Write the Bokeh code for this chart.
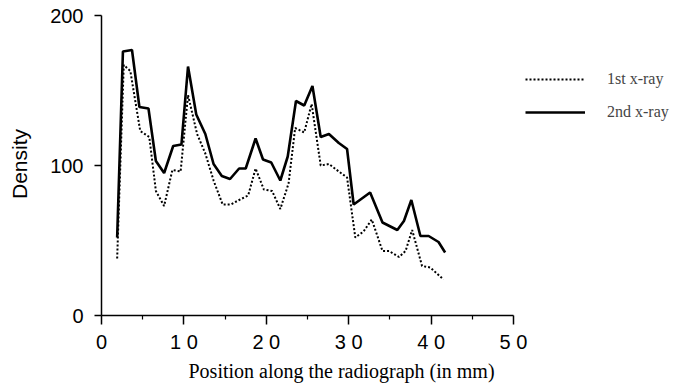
from bokeh.plotting import figure
from bokeh.models import FixedTicker, Legend, LegendItem, Range1d, Title
from bokeh.embed import file_html
from bokeh.resources import INLINE

# Data
pos_1st = [1.9, 2.7, 3.5, 4.7, 5.8, 6.6, 7.6, 8.6, 9.6, 10.5, 11.6, 12.6, 13.6, 14.7, 15.7,
           16.7, 17.8, 18.7, 19.7, 20.7, 21.7, 22.7, 23.5, 24.6, 25.5, 26.6, 27.6, 28.8,
           29.8, 30.8, 31.8, 32.8, 34.1, 34.9, 36.1, 36.9, 37.7, 38.9, 39.9, 41.5]
density_1st = [38, 167, 163, 123, 119, 83, 73, 97, 96, 147, 121, 108, 90, 74, 74,
               77, 80, 98, 84, 83, 71, 88, 125, 122, 141, 100, 101, 96,
               92, 52, 56, 64, 43, 43, 39, 43, 57, 33, 32, 24]

pos_2nd = [1.9, 2.6, 3.7, 4.6, 5.7, 6.6, 7.6, 8.7, 9.7, 10.5, 11.5, 12.6, 13.6, 14.6, 15.6,
           16.7, 17.5, 18.7, 19.6, 20.6, 21.7, 22.6, 23.6, 24.6, 25.6, 26.6, 27.6, 28.8,
           29.8, 30.6, 31.6, 32.6, 34.1, 35.9, 36.7, 37.6, 38.7, 39.7, 40.9, 41.7]
density_2nd = [52, 176, 177, 139, 138, 103, 95, 113, 114, 166, 134, 121, 101, 93, 91,
               98, 98, 118, 104, 102, 90, 106, 143, 140, 153, 119, 121, 115,
               111, 74, 78, 82, 62, 57, 63, 77, 53, 53, 49, 42]

x_ticks = [0, 10, 20, 30, 40, 50]
x_tick_labels = ["0", "1 0", "2 0", "3 0", "4 0", "5 0"]
x_minor_ticks = [5, 15, 25, 35, 45]
y_ticks = [0, 100, 200]
series_names = ["1st x-ray", "2nd x-ray"]
x_title = "Position along the radiograph (in mm)"
y_title = "Density"

p = figure(width=674, height=389, output_backend="svg", toolbar_location=None,
           x_range=Range1d(0, 69.05), y_range=Range1d(0, 202),
           min_border_left=101, min_border_right=4, min_border_top=12, min_border_bottom=74)
p.outline_line_color = None
p.grid.visible = False
p.background_fill_color = "white"
p.border_fill_color = "white"

r1 = p.line(pos_1st, density_1st, line_color="black", line_width=2.0, line_dash="2 2")
r2 = p.line(pos_2nd, density_2nd, line_color="black", line_width=2.6)

xa = p.xaxis[0]
xa.bounds = (0, 50)
xa.ticker = FixedTicker(ticks=x_ticks, minor_ticks=x_minor_ticks)
xa.major_label_overrides = {t: l for t, l in zip(x_ticks, x_tick_labels)}
xa.major_tick_in = 0
xa.major_tick_out = 9
xa.minor_tick_in = 0
xa.minor_tick_out = 4
xa.major_label_standoff = 6
xa.major_label_text_font = "Liberation Sans"
xa.major_label_text_font_size = "20px"
xa.major_label_text_color = "black"
xa.axis_line_width = 1.5
xa.major_tick_line_width = 1.5
xa.minor_tick_line_width = 1.2

p.add_layout(Title(text=x_title, align="left", offset=87, standoff=5,
                   text_font="Liberation Serif", text_font_size="20px",
                   text_font_style="normal", text_color="black"), "below")

ya = p.yaxis[0]
ya.bounds = (0, 200)
ya.ticker = FixedTicker(ticks=y_ticks, minor_ticks=[])
ya.major_tick_in = 0
ya.major_tick_out = 7
ya.minor_tick_in = 0
ya.minor_tick_out = 0
ya.major_label_standoff = 11
ya.major_label_text_font = "Liberation Sans"
ya.major_label_text_font_size = "20px"
ya.major_label_text_color = "black"
ya.axis_line_width = 1.5
ya.major_tick_line_width = 1.5
ya.axis_label = y_title
ya.axis_label_text_font = "Liberation Sans"
ya.axis_label_text_font_style = "normal"
ya.axis_label_text_font_size = "21px"
ya.axis_label_text_color = "black"
ya.axis_label_standoff = 16

legend = Legend(items=[LegendItem(label=series_names[0], renderers=[r1]),
                       LegendItem(label=series_names[1], renderers=[r2])],
                location=(424, 193), orientation="vertical",
                glyph_width=60, glyph_height=20, label_height=20, spacing=13,
                label_standoff=22, padding=0, margin=0,
                border_line_color=None, background_fill_alpha=0,
                label_text_font="Liberation Serif", label_text_font_size="16px")
p.add_layout(legend, "center")

open("out.html", "w").write(file_html(p, INLINE))
